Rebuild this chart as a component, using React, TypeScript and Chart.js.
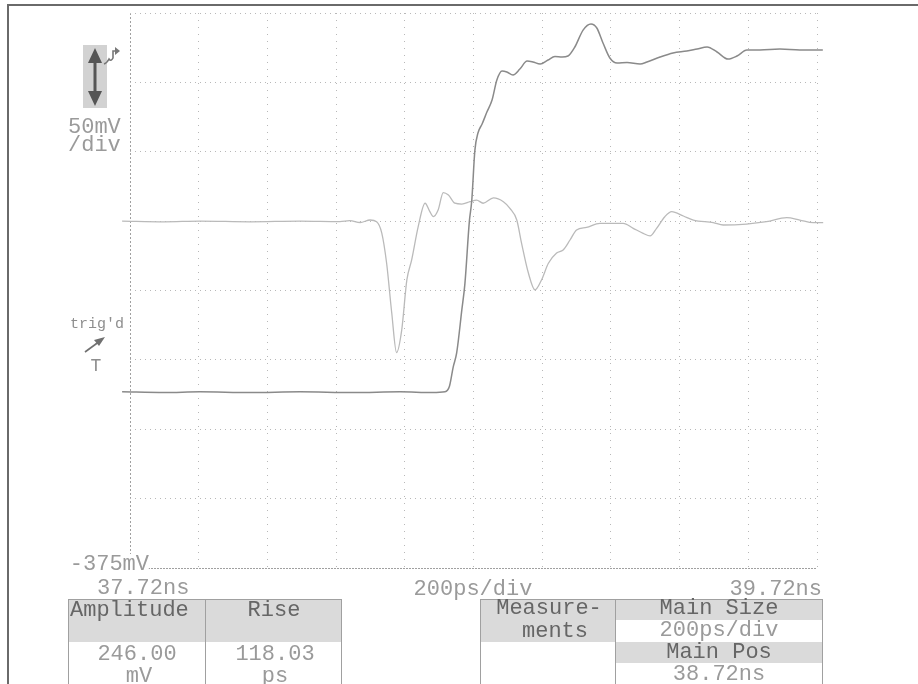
import { useEffect, useRef } from "react";
import { Chart, registerables } from "chart.js";

Chart.register(...registerables);

// Screen annotations
const SCREEN_START = "37.72ns";
const SCREEN_END = "39.72ns";
const TIMEBASE = "200ps/div";
const VOLTS_PER_DIV = "50mV";
const BOTTOM_LEVEL = "-375mV";

// Grid: 10 horizontal divisions of 200 ps, 8 vertical divisions of 50 mV
const timeTicksPs = [0, 200, 400, 600, 800, 1000, 1200, 1400, 1600, 1800, 2000];
const voltTicksMv = [-375, -325, -275, -225, -175, -125, -75, -25, 25];

// Step waveform (time in ps after 37.72 ns, level in mV)
const stepTimePs = [
  -23, 100, 204, 350, 495, 650, 786, 880, 917, 930, 941, 951, 966, 975, 988, 995,
  1004, 1013, 1025, 1039, 1054, 1068, 1083, 1097, 1115, 1135, 1156, 1173, 1194, 1217,
  1237, 1258, 1275, 1295, 1319, 1342, 1359, 1377, 1397, 1418, 1447, 1485, 1505, 1543,
  1581, 1621, 1651, 1680, 1709, 1741, 1767, 1796, 1834, 1892, 1950, 2017,
];
const stepMv = [
  -248, -248.5, -248, -248.5, -248, -248.5, -248, -248.5, -248, -244, -230, -220, -189, -170, -125, -110,
  -74, -61.5, -55, -46.4, -37.7, -23.3, -16.8, -17.5, -19.7, -15.4, -9.6, -10.3, -11.8, -8.9,
  -6.3, -6.7, -6, 0.5, 12.7, 17.1, 14.2, 3.4, -7.4, -11, -10.7, -11.8, -10.3, -6.7,
  -3.8, -2.4, -0.9, 0.5, -3.1, -8.2, -6, -1.7, -1.7, -1, -1.7, -1.7,
];

// Second channel (reflection trace)
const probeTimePs = [
  -23, 100, 204, 350, 495, 611, 640, 670, 699, 718, 733, 747, 762, 776, 791, 806,
  820, 839, 859, 873, 883, 897, 912, 927, 946, 966, 990, 1009, 1028, 1058, 1087, 1106,
  1126, 1140, 1160, 1179, 1198, 1218, 1242, 1261, 1281, 1300, 1329, 1368, 1407, 1436,
  1465, 1494, 1514, 1533, 1557, 1577, 1611, 1640, 1698, 1727, 1795, 1853, 1912, 1950,
  1989, 2018,
];
const probeMv = [
  -125, -125.5, -125, -125.5, -125, -125.4, -124.7, -126, -124.2, -125.4, -133.6, -155.2, -191.2, -219.7, -203.5, -167.4,
  -153, -129, -112.1, -118.2, -121.8, -117, -104.4, -106.2, -112.1, -112.7, -111, -109.8, -112.1, -108.3, -111, -115.8,
  -124.2, -141, -162.6, -174.6, -167.4, -155.4, -148, -145.8, -138.6, -131.4, -129.5, -126.6, -126.6, -126.6,
  -130.2, -133.8, -135.7, -130.2, -121.8, -118.2, -121.3, -124.2, -126.1, -127.8, -127.1, -125.4, -122.5, -124.2,
  -126.1, -126.1,
];

// Measurement softkeys
const measureNames = ["Amplitude", "Rise"];
const measureValues = ["246.00", "118.03"];
const measureUnits = ["mV", "ps"];
const mainSize = "200ps/div";
const mainPos = "38.72ns";

const MONO = '"Liberation Mono", "DejaVu Sans Mono", monospace';
const DIM = "#9a9a9a";
const DARK = "#666666";
const SHADE = "#dadada";
const RULE = "#a0a0a0";

type LabelProps = {
  text: string;
  x: number;
  cy: number;
  align?: "left" | "center" | "right";
  size?: number;
  color?: string;
  bg?: string;
};

function Label({ text, x, cy, align = "left", size = 22, color = DIM, bg }: LabelProps) {
  const shift = align === "left" ? "0" : align === "center" ? "-50%" : "-100%";
  return (
    <span
      style={{
        position: "absolute",
        left: x,
        top: cy,
        transform: `translate(${shift}, -50%)`,
        fontFamily: MONO,
        fontSize: size,
        lineHeight: 1,
        color,
        whiteSpace: "pre",
        background: bg,
      }}
    >
      {text}
    </span>
  );
}

function Box({ l, t, w, h, fill, borders }: { l: number; t: number; w: number; h: number; fill?: string; borders?: string }) {
  const b = borders || "";
  const line = `1px solid ${RULE}`;
  return (
    <div
      style={{
        position: "absolute",
        left: l,
        top: t,
        width: w,
        height: h,
        background: fill,
        boxSizing: "border-box",
        borderTop: b.includes("t") ? line : undefined,
        borderLeft: b.includes("l") ? line : undefined,
        borderRight: b.includes("r") ? line : undefined,
        borderBottom: b.includes("b") ? line : undefined,
      }}
    />
  );
}

export default function App() {
  const canvasRef = useRef<HTMLCanvasElement | null>(null);

  useEffect(() => {
    const canvas = canvasRef.current;
    if (!canvas) return;
    const chart = new Chart(canvas, {
      type: "line",
      data: {
        datasets: [
          {
            label: "Step",
            data: stepTimePs.map((t, i) => ({ x: t, y: stepMv[i] })),
            borderColor: "#8a8a8a",
            borderWidth: 1.5,
            pointRadius: 0,
            cubicInterpolationMode: "monotone",
            clip: false,
          },
          {
            label: "Reflection",
            data: probeTimePs.map((t, i) => ({ x: t, y: probeMv[i] })),
            borderColor: "#bababa",
            borderWidth: 1.3,
            pointRadius: 0,
            cubicInterpolationMode: "monotone",
            clip: false,
          },
        ],
      },
      options: {
        responsive: false,
        animation: false,
        events: [],
        layout: { padding: { left: 130, right: 101, top: 13, bottom: 116 } },
        plugins: { legend: { display: false }, tooltip: { enabled: false } },
        scales: {
          x: {
            type: "linear",
            min: 0,
            max: 2000,
            afterBuildTicks: (s: any) => {
              s.ticks = timeTicksPs.map((v) => ({ value: v }));
            },
            afterFit: (s: any) => {
              s.height = 0;
            },
            ticks: { display: false },
            grid: {
              drawTicks: false,
              lineWidth: 1,
              color: (ctx: any) => (ctx.tick && ctx.tick.value === 0 ? "#a0a0a0" : "#b8b8b8"),
            },
            border: {
              display: false,
              dash: (ctx: any) => (ctx.tick && ctx.tick.value === 0 ? [2, 2] : [1, 6]),
            },
          },
          y: {
            type: "linear",
            min: -375,
            max: 25,
            afterBuildTicks: (s: any) => {
              s.ticks = voltTicksMv.map((v) => ({ value: v }));
            },
            afterFit: (s: any) => {
              s.width = 0;
            },
            ticks: { display: false },
            grid: {
              drawTicks: false,
              lineWidth: 1,
              color: (ctx: any) => (ctx.tick && ctx.tick.value === -375 ? "#a0a0a0" : "#b8b8b8"),
            },
            border: {
              display: false,
              dash: (ctx: any) => (ctx.tick && ctx.tick.value === -375 ? [2, 1] : [1, 4]),
            },
          },
        },
      },
    } as any);
    return () => chart.destroy();
  }, []);

  return (
    <div
      style={{
        position: "fixed",
        left: 0,
        top: 0,
        width: 918,
        height: 684,
        background: "#ffffff",
        overflow: "hidden",
      }}
    >
      <canvas ref={canvasRef} width={918} height={684} style={{ position: "absolute", left: 0, top: 0 }} />

      {/* screen frame */}
      <div style={{ position: "absolute", left: 7, top: 4, width: 911, height: 2, background: "#6a6a6a" }} />
      <div style={{ position: "absolute", left: 7, top: 4, width: 2, height: 680, background: "#6a6a6a" }} />

      {/* channel offset control icon */}
      <svg style={{ position: "absolute", left: 80, top: 42 }} width={45} height={70}>
        <rect x={3} y={3} width={24} height={63} fill="#d2d2d2" />
        <line x1={15} y1={14} x2={15} y2={56} stroke="#555555" strokeWidth={3} />
        <polygon points="15,6 8,21 22,21" fill="#555555" />
        <polygon points="15,64 8,49 22,49" fill="#555555" />
        <path d="M24 22 q3 -1 5 -5 q2 3 4 -1 l0 -7 l4 0" stroke="#777777" strokeWidth={1.6} fill="none" />
        <polygon points="40,9 35,5 35,13" fill="#777777" />
      </svg>
      <Label text={VOLTS_PER_DIV} x={68} cy={128} />
      <Label text="/div" x={68} cy={146} />

      {/* trigger marker */}
      <Label text="trig'd" x={70} cy={324} size={15} color="#8e8e8e" />
      <svg style={{ position: "absolute", left: 82, top: 334 }} width={26} height={22}>
        <line x1={3} y1={18} x2={18} y2={7} stroke="#707070" strokeWidth={1.6} />
        <polygon points="23,3 12,6 17,12" fill="#707070" />
      </svg>
      <Label text="T" x={96} cy={366} size={18} align="center" color="#8e8e8e" />

      {/* axis annotations */}
      <Label text={BOTTOM_LEVEL} x={149} cy={565} align="right" bg="#ffffff" />
      <Label text={SCREEN_START} x={97} cy={589} />
      <Label text={TIMEBASE} x={473} cy={590} align="center" />
      <Label text={SCREEN_END} x={822} cy={590} align="right" />

      {/* measurement softkeys */}
      <Box l={68} t={599} w={138} h={43} fill={SHADE} />
      <Box l={206} t={599} w={136} h={43} fill={SHADE} />
      <Box l={68} t={599} w={138} h={90} borders="tlr" />
      <Box l={206} t={599} w={136} h={90} borders="tr" />
      <Label text={measureNames[0]} x={70} cy={611} color={DARK} />
      <Label text={measureNames[1]} x={274} cy={611} align="center" color={DARK} />
      <Label text={measureValues[0]} x={137} cy={655} align="center" />
      <Label text={measureUnits[0]} x={139} cy={677} align="center" />
      <Label text={measureValues[1]} x={275} cy={655} align="center" />
      <Label text={measureUnits[1]} x={275} cy={677} align="center" />

      <Box l={480} t={599} w={136} h={43} fill={SHADE} />
      <Box l={480} t={599} w={136} h={90} borders="tlr" />
      <Label text="Measure-" x={549} cy={609} align="center" color={DARK} />
      <Label text="ments" x={555} cy={632} align="center" color={DARK} />

      <Box l={616} t={599} w={207} h={21} fill={SHADE} />
      <Box l={616} t={642} w={207} h={21} fill={SHADE} />
      <Box l={616} t={599} w={207} h={90} borders="tr" />
      <Label text="Main Size" x={719} cy={609} align="center" color={DARK} />
      <Label text={mainSize} x={719} cy={631} align="center" />
      <Label text="Main Pos" x={719} cy={653} align="center" color={DARK} />
      <Label text={mainPos} x={719} cy={675} align="center" />
    </div>
  );
}
